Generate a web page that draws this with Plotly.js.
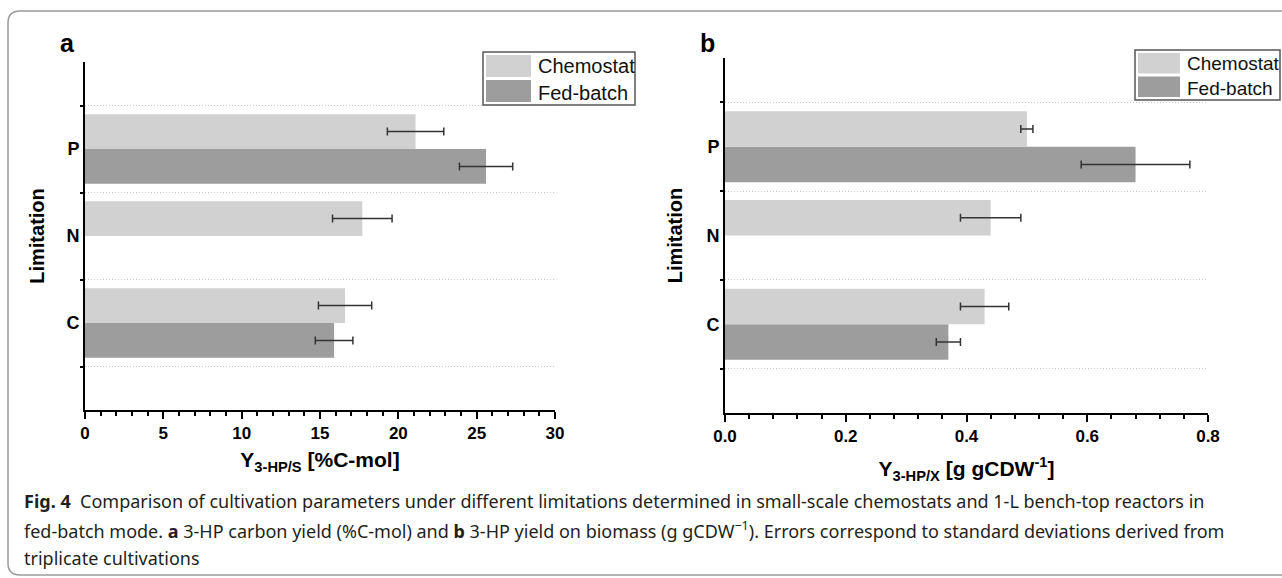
<!DOCTYPE html>
<html><head><meta charset="utf-8">
<script src="https://cdn.plot.ly/plotly-3.0.1.min.js"></script>
<style>html,body{margin:0;padding:0;background:#fff}#chart{width:1282px;height:578px}</style>
</head><body><div id="chart"></div>
<script>
// ---------- data ----------
const limitations = ['C', 'N', 'P'];
const seriesNames = ['Chemostat', 'Fed-batch'];

// panel a: 3-HP carbon yield Y3-HP/S (%C-mol)
const yieldS_chemostat    = [16.6, 17.7, 21.1];
const yieldS_chemostat_sd = [1.7, 1.9, 1.8];
const yieldS_fedbatch     = [15.9, null, 25.6];
const yieldS_fedbatch_sd  = [1.2, null, 1.7];

// panel b: 3-HP yield on biomass Y3-HP/X (g gCDW-1)
const yieldX_chemostat    = [0.43, 0.44, 0.50];
const yieldX_chemostat_sd = [0.04, 0.05, 0.01];
const yieldX_fedbatch     = [0.37, null, 0.68];
const yieldX_fedbatch_sd  = [0.02, null, 0.09];

const xTicksA = [0, 5, 10, 15, 20, 25, 30];
const xTicksB = [0, 0.2, 0.4, 0.6, 0.8];

// ---------- style ----------
const W = 1282, H = 578;
const px = v => v / W;
const py = v => 1 - v / H;
const COL_CHEMO = '#d0d1d0';
const COL_FED = '#9c9d9c';
const FONT = 'Liberation Sans, Arial, sans-serif';

function errBar(arr) {
  return {type: 'data', array: arr, visible: true, color: '#333', thickness: 1.5, width: 4};
}
function barTrace(name, x, sd, color, xa, ya) {
  return {type: 'bar', orientation: 'h', name: name, y: limitations, x: x,
    error_x: errBar(sd), marker: {color: color, line: {width: 0}},
    xaxis: xa, yaxis: ya, hoverinfo: 'x+y+name'};
}

// fed-batch first so that chemostat is drawn above it within each group
const data = [
  barTrace(seriesNames[1], yieldS_fedbatch, yieldS_fedbatch_sd, COL_FED, 'x', 'y'),
  barTrace(seriesNames[0], yieldS_chemostat, yieldS_chemostat_sd, COL_CHEMO, 'x', 'y'),
  barTrace(seriesNames[1], yieldX_fedbatch, yieldX_fedbatch_sd, COL_FED, 'x2', 'y2'),
  barTrace(seriesNames[0], yieldX_chemostat, yieldX_chemostat_sd, COL_CHEMO, 'x2', 'y2')
];

function xAxis(domain, anchor, range, tickvals, fmt, minorDt, title, standoff) {
  return {domain: domain, anchor: anchor, range: range, tickvals: tickvals, tickformat: fmt,
    ticks: 'outside', ticklen: 7, tickwidth: 2, tickcolor: '#000',
    showline: true, linecolor: '#000', linewidth: 2, showgrid: false, zeroline: false,
    tickfont: {family: FONT, size: 17, weight: 'bold', color: '#000'},
    minor: {dtick: minorDt, ticks: 'outside', ticklen: 4, tickwidth: 2, tickcolor: '#000', showgrid: false},
    title: {text: title, font: {family: FONT, size: 21, weight: 'bold', color: '#000'}, standoff: standoff},
    fixedrange: true};
}
function yAxis(domain, anchor, standoff) {
  return {domain: domain, anchor: anchor, type: 'category', categoryorder: 'array',
    categoryarray: limitations, range: [-1, 3], tickson: 'boundaries',
    ticks: 'outside', ticklen: 3, tickwidth: 2, tickcolor: '#000',
    showline: true, linecolor: '#000', linewidth: 2,
    showgrid: true, gridcolor: '#c8c8c8', griddash: '1px,2px', gridwidth: 1, zeroline: false,
    tickfont: {family: FONT, size: 18, weight: 'bold', color: '#000'},
    title: {text: 'Limitation', font: {family: FONT, size: 20, weight: 'bold', color: '#000'}, standoff: standoff},
    fixedrange: true};
}

// custom legend boxes (large swatches as in the original figure)
function legendParts(x0, x1, y0, y1, swX1, textX, fs) {
  const mid = (y0 + y1) / 2;
  const shapes = [
    {type: 'rect', xref: 'paper', yref: 'paper', x0: px(x0), x1: px(x1), y0: py(y1), y1: py(y0),
      line: {color: '#555', width: 1.5}, fillcolor: 'white', layer: 'above'},
    {type: 'rect', xref: 'paper', yref: 'paper', x0: px(x0 + 3), x1: px(swX1), y0: py(mid - 1.5), y1: py(y0 + 3),
      line: {width: 0}, fillcolor: COL_CHEMO, layer: 'above'},
    {type: 'rect', xref: 'paper', yref: 'paper', x0: px(x0 + 3), x1: px(swX1), y0: py(y1 - 3), y1: py(mid + 1.5),
      line: {width: 0}, fillcolor: COL_FED, layer: 'above'}
  ];
  const ann = [
    {xref: 'paper', yref: 'paper', x: px(textX), y: py((y0 + mid) / 2 + 1), xanchor: 'left', yanchor: 'middle',
      showarrow: false, text: seriesNames[0], font: {family: FONT, size: fs, color: '#111'}},
    {xref: 'paper', yref: 'paper', x: px(textX), y: py((mid + y1) / 2 + 1), xanchor: 'left', yanchor: 'middle',
      showarrow: false, text: seriesNames[1], font: {family: FONT, size: fs, color: '#111'}}
  ];
  return {shapes, ann};
}
const legA = legendParts(483, 635, 52, 105, 531, 536, 20);
const legB = legendParts(1135, 1280, 50, 100, 1180, 1185, 19);

const r = 12;
const border = {type: 'path', xref: 'paper', yref: 'paper', line: {color: '#9a9a9a', width: 1.5},
  path: `M ${px(W + 10)} ${py(11)} L ${px(8 + r)} ${py(11)} Q ${px(8)} ${py(11)} ${px(8)} ${py(11 + r)} ` +
        `L ${px(8)} ${py(575 - r)} Q ${px(8)} ${py(575)} ${px(8 + r)} ${py(575)} L ${px(W + 10)} ${py(575)}`};

const CAPFONT = 'Noto Sans, Open Sans, sans-serif';
const captionLines = [
  '<b>Fig. 4</b>  Comparison of cultivation parameters under different limitations determined in small-scale chemostats and 1-L bench-top reactors in',
  'fed-batch mode. <b>a</b> 3-HP carbon yield (%C-mol) and <b>b</b> 3-HP yield on biomass (g gCDW<sup>\u22121</sup>). Errors correspond to standard deviations derived from',
  'triplicate cultivations'
];
const captionY = [501, 530, 558];
const captionAnn = captionLines.map((t, i) => ({xref: 'paper', yref: 'paper', x: px(22), y: py(captionY[i]),
  xanchor: 'left', yanchor: 'middle', showarrow: false, text: t,
  font: {family: CAPFONT, size: 18, color: '#231f20'}}));

const panelLabels = [
  {xref: 'paper', yref: 'paper', x: px(67), y: py(43), xanchor: 'center', yanchor: 'middle', showarrow: false,
    text: '<b>a</b>', font: {family: FONT, size: 25, color: '#000'}},
  {xref: 'paper', yref: 'paper', x: px(708), y: py(43), xanchor: 'center', yanchor: 'middle', showarrow: false,
    text: '<b>b</b>', font: {family: FONT, size: 25, color: '#000'}}
];

const layout = {
  width: W, height: H, margin: {l: 0, r: 0, t: 0, b: 0},
  paper_bgcolor: 'white', plot_bgcolor: 'white',
  font: {family: FONT, color: '#000'},
  barmode: 'group', bargap: 0.2, bargroupgap: 0, showlegend: false,
  xaxis: xAxis([px(85), px(555)], 'y', [0, 30], xTicksA, 'd', 1, 'Y<sub>3-HP/S</sub> [%C-mol]', 10),
  yaxis: yAxis([py(410), py(62)], 'x', 16),
  xaxis2: xAxis([px(725), px(1208)], 'y2', [0, 0.8], xTicksB, '.1f', 0.04, 'Y<sub>3-HP/X</sub> [g gCDW<sup>-1</sup>]', 16),
  yaxis2: yAxis([py(413), py(58)], 'x2', 18),
  shapes: [border].concat(legA.shapes, legB.shapes),
  annotations: panelLabels.concat(legA.ann, legB.ann, captionAnn)
};

Plotly.newPlot('chart', data, layout, {displayModeBar: false, staticPlot: true});
</script>
</body></html>
